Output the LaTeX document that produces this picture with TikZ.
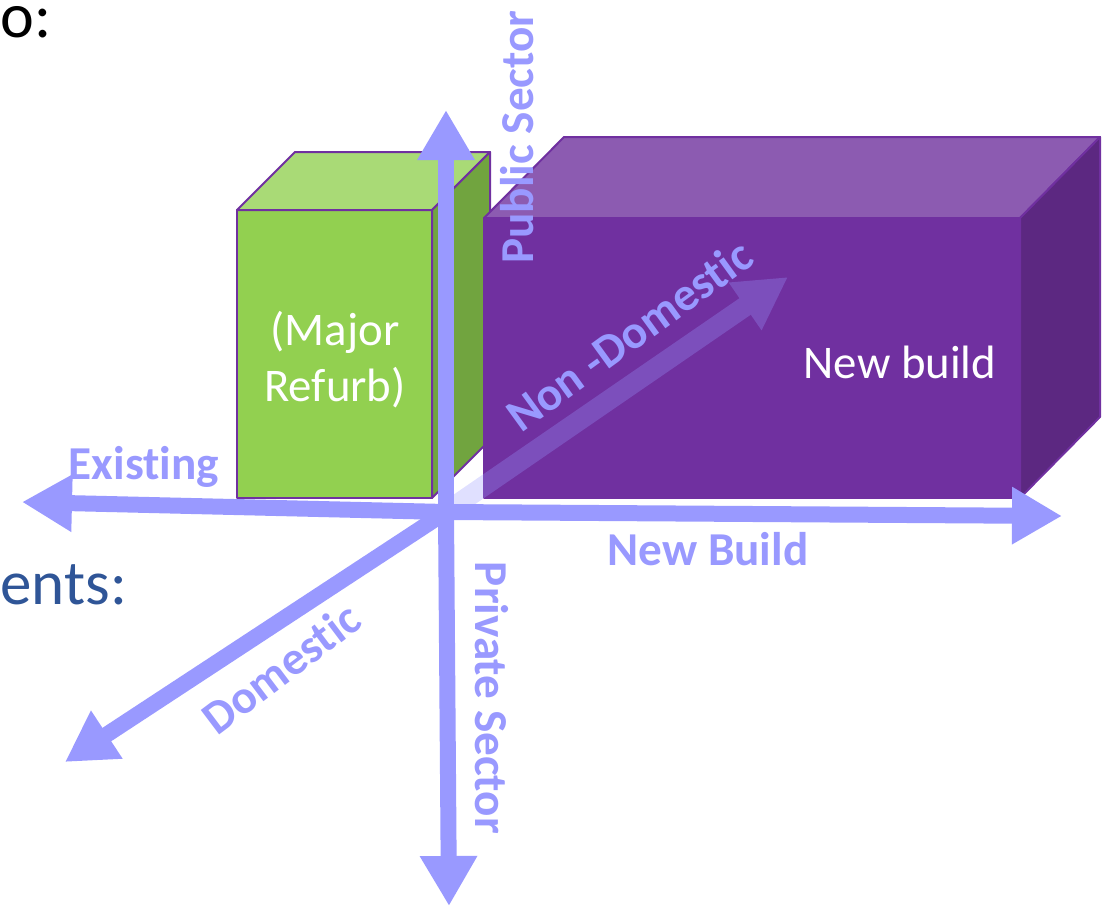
\documentclass[tikz,border=0pt]{standalone}
\usepackage{fontspec}
\setmainfont[Ligatures=NoCommon]{Carlito}
\usetikzlibrary{arrows.meta}

\definecolor{axisblue}{HTML}{9999FF}
\definecolor{boxedge}{HTML}{7030A0}
\definecolor{greenfront}{HTML}{92D050}
\definecolor{greentop}{HTML}{A9DA76}
\definecolor{greenside}{HTML}{71A43F}
\definecolor{purplefront}{HTML}{7030A0}
\definecolor{purpletop}{HTML}{8C5BB1}
\definecolor{purpleside}{HTML}{5C2881}
\definecolor{slideblue}{HTML}{2F5597}

\begin{document}
\begin{tikzpicture}[x=0.5pt, y=-0.5pt]
  \tikzstyle{axis}=[draw=axisblue, line width=8pt, -{Triangle[length=25pt, width=27pt]}]
  \tikzstyle{lbl}=[text=axisblue, font=\fontsize{23.6}{27}\selectfont\bfseries, inner sep=0pt]
  \tikzstyle{boxtxt}=[text=white, font=\fontsize{23.4}{28}\selectfont, align=center, inner sep=0pt]
  \tikzstyle{face}=[draw=boxedge, line width=1pt, line join=round]

  \useasboundingbox (0,0) rectangle (1115,906);

  % slide text cut off at the edge
  \node[anchor=base west, inner sep=0pt, font=\fontsize{32}{36}\selectfont] (hd) at (0,37) {o:};
  \node[anchor=base west, inner sep=0pt, text=slideblue, font=\fontsize{31.5}{36}\selectfont] (req) at (0,604) {ents:};

  % green box
  \path[face, fill=greenfront] (237,210) rectangle (432,498);
  \path[face, fill=greentop]   (237,210) -- (295,152) -- (490,152) -- (432,210) -- cycle;
  \path[face, fill=greenside]  (432,210) -- (490,152) -- (490,440) -- (432,498) -- cycle;

  % purple box
  \path[face, fill=purplefront] (484,218) rectangle (1020,498);
  \path[face, fill=purpletop]   (484,218) -- (564,137) -- (1100,137) -- (1020,218) -- cycle;
  \path[face, fill=purpleside]  (1020,218) -- (1100,137) -- (1100,417) -- (1020,498) -- cycle;

  \node[boxtxt] (refurb) at (335,360) {(Major\\Refurb)};
  \node[boxtxt] (newbld) at (900,362) {New build};

  % axes
  \coordinate (O)    at (446,512);
  \coordinate (ex)   at (22,502);
  \coordinate (nb)   at (1062,516);
  \coordinate (pub)  at (446,110);
  \coordinate (priv) at (449,906);
  \coordinate (dom)  at (65,762);
  \coordinate (nd)   at (788,277);

  \begin{scope}[transparency group, opacity=0.3]
    \path (O) edge[axis, line width=10pt, -{Triangle[length=26pt, width=27pt]}] (nd);
  \end{scope}

  \path (O) edge[axis] (ex);
  \path (O) edge[axis] (nb);
  \path (O) edge[axis] (pub);
  \path (O) edge[axis] (priv);
  \path (O) edge[axis] (dom);

  \node[lbl] (lex)   at (144,467) {Existing};
  \node[lbl] (lnb)   at (708,549) {New Build};
  \node[lbl, rotate=90]  (lpub)  at (517,137) {Public Sector};
  \node[lbl, rotate=-90] (lpriv) at (492,698) {Private Sector};
  \node[lbl, rotate=37]  (ldom)  at (281,668) {Domestic};
  \node[lbl, rotate=36]  (lnd)   at (629,335) {Non -Domestic};
\end{tikzpicture}
\end{document}
